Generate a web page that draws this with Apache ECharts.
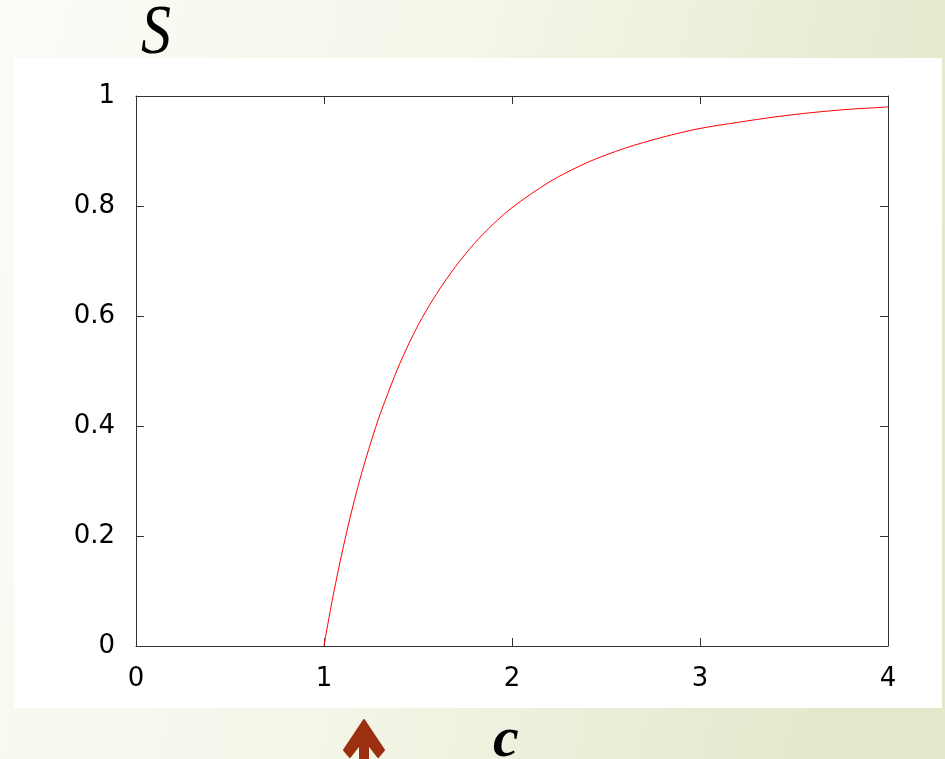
<!DOCTYPE html>
<html>
<head>
<meta charset="utf-8">
<script src="https://cdn.jsdelivr.net/npm/echarts@6/dist/echarts.min.js"></script>
<style>
  html, body { margin: 0; padding: 0; }
  #main { width: 945px; height: 759px; }
</style>
</head>
<body>
<div id="main"></div>
<script>
// giant component size S against mean degree c
const cValues = [1.0, 1.01, 1.02, 1.05, 1.1, 1.15, 1.2, 1.25, 1.3, 1.4, 1.5, 1.6, 1.7, 1.8, 1.9, 2.0,
                 2.2, 2.4, 2.6, 2.8, 3.0, 3.2, 3.4, 3.6, 3.8, 4.0];
const sValues = [0.0, 0.020, 0.039, 0.094, 0.176, 0.249, 0.314, 0.371, 0.423, 0.511, 0.583, 0.641, 0.690, 0.732, 0.767, 0.797,
                 0.844, 0.879, 0.905, 0.925, 0.941, 0.952, 0.962, 0.970, 0.976, 0.980];
const xTicks = [0, 1, 2, 3, 4];
const yTicks = [0, 0.2, 0.4, 0.6, 0.8, 1];

let chart = echarts.init(document.getElementById('main'));

const axisColor = '#333';
const tickFont = { color: '#000', fontSize: 26, fontFamily: '"DejaVu Sans", sans-serif' };
const arrowColor = '#9c2f0f';

chart.setOption({
  animation: false,
  backgroundColor: {
    type: 'linear', x: 0, y: 0, x2: 1, y2: 0.3,
    colorStops: [
      { offset: 0, color: '#fbfcf7' },
      { offset: 0.5, color: '#f3f6e8' },
      { offset: 1, color: '#e2e9cb' }
    ]
  },
  graphic: [
    // white panel behind the plot
    { type: 'rect', z: -10, shape: { x: 14, y: 58, width: 928, height: 650 }, style: { fill: '#fff' } },
    // y axis title
    { type: 'text', left: 141, top: 0, scaleY: 1.15, style: { text: 'S', font: 'italic 60px "Liberation Serif", serif', fill: '#000' } },
    // x axis title
    { type: 'text', left: 493, top: 712, style: { text: 'c', font: 'italic bold 58px "Liberation Serif", serif', fill: '#000' } },
    // arrow marker under the axis
    {
      type: 'polygon',
      shape: { points: [[364, 720], [384, 750], [378, 757], [368, 744], [368, 770], [360, 770], [360, 744], [350, 757], [344, 750]] },
      style: { fill: arrowColor, stroke: arrowColor, lineWidth: 2, lineJoin: 'round' }
    }
  ],
  grid: { left: 136, top: 96, width: 752, height: 550 },
  xAxis: [
    {
      type: 'value', min: 0, max: 4, interval: 1,
      axisLine: { show: true, onZero: false, lineStyle: { color: axisColor } },
      axisTick: { inside: true, length: 8, lineStyle: { color: axisColor } },
      axisLabel: Object.assign({ margin: 20, formatter: v => xTicks.includes(v) ? String(v) : '' }, tickFont),
      splitLine: { show: false }
    },
    {
      type: 'value', position: 'top', min: 0, max: 4, interval: 1,
      axisLine: { show: true, onZero: false, lineStyle: { color: axisColor } },
      axisTick: { inside: true, length: 8, lineStyle: { color: axisColor } },
      axisLabel: { show: false }, splitLine: { show: false }
    }
  ],
  yAxis: [
    {
      type: 'value', min: 0, max: 1, interval: 0.2,
      axisLine: { show: true, onZero: false, lineStyle: { color: axisColor } },
      axisTick: { inside: true, length: 8, lineStyle: { color: axisColor } },
      axisLabel: Object.assign({ margin: 21, formatter: v => {
        const t = yTicks.find(y => Math.abs(y - v) < 1e-9);
        return t === undefined ? '' : String(t);
      } }, tickFont),
      splitLine: { show: false }
    },
    {
      type: 'value', position: 'right', min: 0, max: 1, interval: 0.2,
      axisLine: { show: true, onZero: false, lineStyle: { color: axisColor } },
      axisTick: { inside: true, length: 8, lineStyle: { color: axisColor } },
      axisLabel: { show: false }, splitLine: { show: false }
    }
  ],
  series: [{
    type: 'line',
    data: cValues.map((c, i) => [c, sValues[i]]),
    smooth: 0.3,
    showSymbol: false,
    lineStyle: { color: '#ff0000', width: 1 }
  }]
});
</script>
</body>
</html>
